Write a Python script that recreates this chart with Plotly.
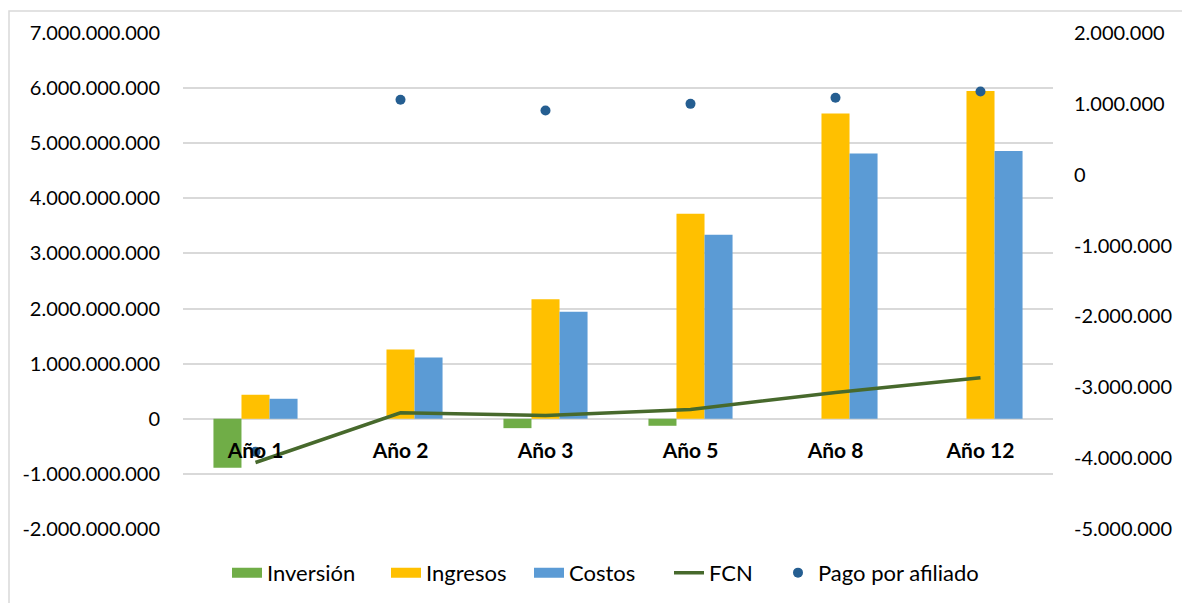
import plotly.graph_objects as go

# Flujo de caja del proyecto por año
categorias = ["Año 1", "Año 2", "Año 3", "Año 5", "Año 8", "Año 12"]
inversion = [-890_000_000, 0, -170_000_000, -127_000_000, 0, 0]
ingresos = [436_000_000, 1_258_000_000, 2_170_000_000, 3_720_000_000, 5_540_000_000, 5_946_000_000]
costos = [363_000_000, 1_113_000_000, 1_940_000_000, 3_340_000_000, 4_815_000_000, 4_857_000_000]
fcn = [-793_000_000, 109_000_000, 60_000_000, 169_000_000, 477_000_000, 744_000_000]
pago_afiliado = [-3_910_000, 1_057_000, 906_000, 1_000_000, 1_085_000, 1_174_000]

ticks_izq = list(range(-2_000_000_000, 7_000_000_001, 1_000_000_000))
ticks_der = list(range(-5_000_000, 2_000_001, 1_000_000))


def miles(v):
    # separador de miles con punto y signo menos simple
    return f"{v:,}".replace(",", ".")


VERDE = "#70AD47"
AMARILLO = "#FFC000"
AZUL = "#5B9BD5"
VERDE_OSCURO = "#47692C"
AZUL_OSCURO = "#255E91"
FUENTE = "Lato"

W, H = 1182, 603
ML, MR, MT, MB = 183, 129, 33, 74
PW, PH = W - ML - MR, H - MT - MB

# origen horizontal (px) de cada entrada de la leyenda
LEYENDA_X = {"legend": 227, "legend2": 386, "legend3": 529, "legend4": 669, "legend5": 778}

fig = go.Figure()

for nombre, valores, color, ley in [("Inversión", inversion, VERDE, "legend"),
                                    ("Ingresos", ingresos, AMARILLO, "legend2"),
                                    ("Costos", costos, AZUL, "legend3")]:
    fig.add_trace(go.Bar(x=categorias, y=valores, name=nombre,
                         marker=dict(color=color, line=dict(width=0)),
                         showlegend=False, legendgroup=nombre))
    # entrada de leyenda con símbolo rectangular ancho
    fig.add_trace(go.Scatter(x=[None], y=[None], mode="lines", name=nombre,
                             line=dict(color=color, width=13), legend=ley,
                             legendgroup=nombre, hoverinfo="skip"))

fig.add_trace(go.Scatter(x=categorias, y=fcn, name="FCN", mode="lines",
                         line=dict(color=VERDE_OSCURO, width=3.5), legend="legend4"))
fig.add_trace(go.Scatter(x=categorias, y=pago_afiliado, name="Pago por afiliado",
                         mode="markers", yaxis="y2", legend="legend5",
                         marker=dict(color=AZUL_OSCURO, size=10)))

# posición vertical del cero del eje izquierdo dentro del área de trazado
cero = (0 - ticks_izq[0]) / (ticks_izq[-1] - ticks_izq[0])

leyendas = {
    k: dict(orientation="h", xref="container", x=px / W, xanchor="left",
            yref="container", y=0.05, yanchor="middle", bgcolor="rgba(0,0,0,0)",
            font=dict(family=FUENTE, size=22, color="#000000"), itemwidth=30)
    for k, px in LEYENDA_X.items()
}

fig.update_layout(
    width=W, height=H,
    margin=dict(l=ML, r=MR, t=MT, b=MB, autoexpand=False),
    paper_bgcolor="white", plot_bgcolor="white",
    font=dict(family=FUENTE, size=20, color="#000000"),
    barmode="group", bargap=0.42, bargroupgap=0,
    xaxis=dict(anchor="free", position=cero, showline=False, showgrid=False,
               zeroline=False, ticks="", ticklabelstandoff=17,
               tickfont=dict(family=FUENTE, size=21, weight="bold", color="#000000")),
    yaxis=dict(range=[ticks_izq[0], ticks_izq[-1]], tickvals=ticks_izq,
               ticktext=[miles(v) for v in ticks_izq],
               showgrid=True, gridcolor="#D9D9D9", gridwidth=1.5,
               zeroline=True, zerolinecolor="#D9D9D9", zerolinewidth=1.5,
               showline=False, ticks="", ticklabelstandoff=22,
               tickfont=dict(family=FUENTE, size=20, color="#000000")),
    yaxis2=dict(range=[ticks_der[0], ticks_der[-1]], tickvals=ticks_der,
                ticktext=[miles(v) for v in ticks_der],
                overlaying="y", side="right", anchor="x",
                showgrid=False, zeroline=False, showline=False, ticks="",
                ticklabelstandoff=20,
                tickfont=dict(family=FUENTE, size=20, color="#000000")),
    shapes=[dict(type="rect", xref="paper", yref="paper", layer="below",
                 x0=(9 - ML) / PW, x1=(W + 10 - ML) / PW,
                 y0=(H - MB - (H + 10)) / PH, y1=(H - MB - 11) / PH,
                 line=dict(color="#D9D9D9", width=1.5), fillcolor="rgba(0,0,0,0)")],
    **leyendas,
)

fig.write_html("out.html")
